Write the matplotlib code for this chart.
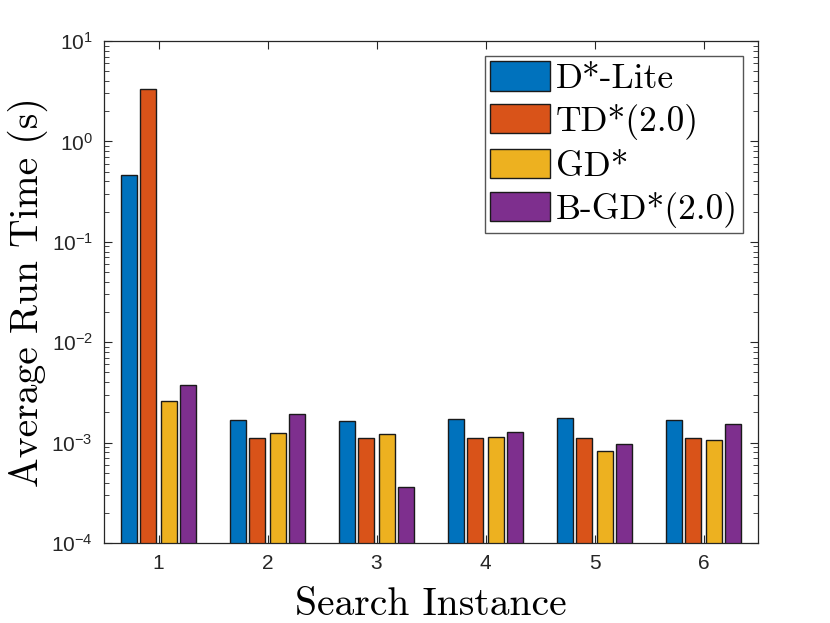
import numpy as np
import matplotlib
matplotlib.use("Agg")
import matplotlib.pyplot as plt
from matplotlib.ticker import LogLocator, NullFormatter

plt.rcParams["font.family"] = ["Liberation Sans", "DejaVu Sans"]

instances = [1, 2, 3, 4, 5, 6]
series_names = ["D*-Lite", "TD*(2.0)", "GD*", "B-GD*(2.0)"]
d_lite = [0.462, 0.00168, 0.00164, 0.00172, 0.00176, 0.00168]
td_star = [3.33, 0.00111, 0.00112, 0.00112, 0.00112, 0.00112]
gd_star = [0.00258, 0.00124, 0.00121, 0.00114, 0.000825, 0.00105]
b_gd_star = [0.00375, 0.00194, 0.000364, 0.00128, 0.00097, 0.00153]

colors = ["#0072BD", "#D95319", "#EDB120", "#7E2F8E"]

fig = plt.figure(figsize=(8.3, 6.23), dpi=100)
ax = fig.add_axes([104 / 830, 1 - 543 / 623, 654 / 830, 502 / 623])

x = np.array(instances)
width = 0.147
offsets = [-0.275, -0.092, 0.092, 0.275]
for vals, name, col, off in zip([d_lite, td_star, gd_star, b_gd_star],
                                series_names, colors, offsets):
  ax.bar(x + off, vals, width, color=col, edgecolor="#1a1a1a",
         linewidth=1.0, label=name)

ax.set_yscale("log")
ax.set_ylim(1e-4, 10)
ax.set_xlim(0.5, 6.5)
ax.set_xticks(instances)
ax.yaxis.set_major_locator(LogLocator(base=10, numticks=10))
ax.yaxis.set_minor_locator(LogLocator(base=10, subs=np.arange(2, 10), numticks=10))
ax.yaxis.set_minor_formatter(NullFormatter())

edge = "#262626"
for s in ax.spines.values():
  s.set_color(edge)
  s.set_linewidth(0.9)
ax.tick_params(which="both", direction="in", top=True, right=True,
               colors=edge, labelcolor="#262626")
ax.tick_params(which="major", length=6, labelsize=15, pad=8)
ax.tick_params(which="minor", length=3.5)

ax.set_xlabel("Search Instance", fontfamily="cmr10", fontsize=28.5, labelpad=10)
ax.set_ylabel("Average Run Time (s)", fontfamily="cmr10", fontsize=28.5, labelpad=2)

leg = ax.legend(loc="upper right", prop={"family": "cmr10", "size": 25.5},
                fancybox=False, framealpha=1, edgecolor="#555555",
                handlelength=1.7, handleheight=0.9, handletextpad=0.15,
                labelspacing=0.25, borderpad=0.15, borderaxespad=0.42)
leg.get_frame().set_linewidth(1.0)

fig.savefig("out.png", dpi=100)
